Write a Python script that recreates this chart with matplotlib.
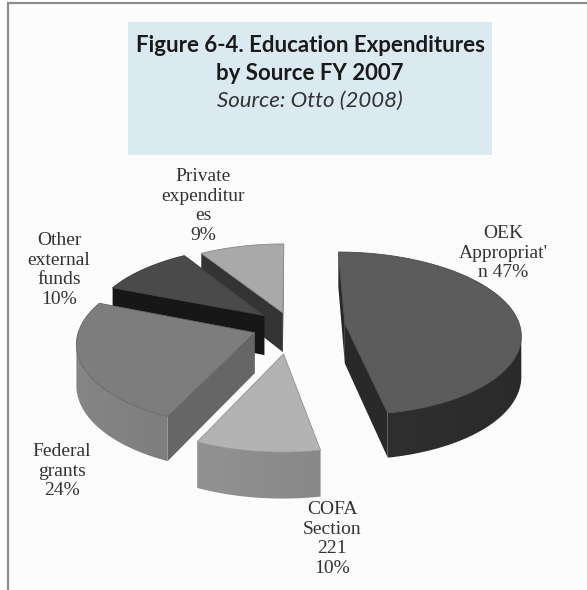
import matplotlib.pyplot as plt
import numpy as np
from matplotlib.colors import to_rgb
from matplotlib.patches import Polygon, Rectangle

# Education expenditure shares (%), clockwise from 12 o'clock.
shares = [47, 10, 24, 10, 9]
label_templates = [
    "OEK\nAppropriat'\nn {}%",
    "COFA\nSection\n221\n{}%",
    "Federal\ngrants\n{}%",
    "Other\nexternal\nfunds\n{}%",
    "Private\nexpenditur\nes\n{}%",
]
title_lines = ["Figure 6-4. Education Expenditures", "by Source FY 2007"]
source_line = "Source: Otto (2008)"

# How far each wedge is pulled out, in pie radii.
explode = [0.31, 0.33, 0.22, 0.20, 0.17]
top_colors = ["#5c5c5c", "#b3b3b3", "#7d7d7d", "#4a4a4a", "#a9a9a9"]
side_colors = ["#303030", "#8b8b8b", "#787878", "#1b1b1b", "#3d3d3d"]
label_pos = [(503, 253), (332, 539), (62, 471), (59, 270), (203, 206)]

W, H_FIG = 587, 590
# Projection of the pie into pixel space.
X0, Y0 = 291, 326
RX, RY, DEPTH = 175, 82, 40
PERSP = 0.12


def project(u, w, z):
    """Ground point (u right, w toward viewer, z up) -> pixel coordinates."""
    s = 1 + PERSP * w
    return X0 + RX * u * s, Y0 + (RY * w - DEPTH * z) * s


def signed_area(pts):
    x = np.array([p[0] for p in pts])
    y = np.array([p[1] for p in pts])
    return 0.5 * np.sum(x * np.roll(y, -1) - np.roll(x, -1) * y)


def shade(color, factor):
    r, g, b = to_rgb(color)
    return tuple(min(1.0, c * factor) for c in (r, g, b))


fig = plt.figure(figsize=(W / 100, H_FIG / 100), dpi=100)
ax = fig.add_axes([0, 0, 1, 1])
ax.axis("off")

# Chart area background and frame.
ax.add_patch(Rectangle((8, 3), W - 8, H_FIG - 3, facecolor="#fcfcfc", edgecolor="none"))
ax.plot([7, W], [3, 3], color="#8c8c8c", lw=1.6, solid_capstyle="butt")
ax.plot([8, 8], [3, H_FIG], color="#8c8c8c", lw=1.6, solid_capstyle="butt")

# Title box.
ax.add_patch(Rectangle((128, 22), 364, 133, facecolor="#dbe9f1", edgecolor="none"))
ax.text(310, 46, title_lines[0], ha="center", va="center", fontsize=16,
        fontweight="bold", family="Lato", color="#1a1a1a")
ax.text(310, 73, title_lines[1], ha="center", va="center", fontsize=16,
        fontweight="bold", family="Lato", color="#1a1a1a")
ax.text(310, 101, source_line, ha="center", va="center", fontsize=16,
        style="italic", family="Lato", color="#333333")

# Build the wedges.
bounds = np.concatenate([[0], np.cumsum(shares)]) / np.sum(shares) * 360
wedges = []
for i, share in enumerate(shares):
    t1, t2 = bounds[i], bounds[i + 1]
    mid = np.radians((t1 + t2) / 2)
    cu, cw = explode[i] * np.sin(mid), -explode[i] * np.cos(mid)
    wedges.append((cw, i, t1, t2, cu))

z = 10
for cw, i, t1, t2, cu in sorted(wedges):
    theta = np.radians(np.linspace(t1, t2, 120))
    rim = [(cu + np.sin(t), cw - np.cos(t)) for t in theta]
    apex = (cu, cw)

    # Flat side walls along the two radii, kept only when facing the viewer.
    for p, q in [(apex, rim[0]), (rim[-1], apex)]:
        quad = [project(*p, 0), project(*q, 0), project(*q, -1), project(*p, -1)]
        if signed_area(quad) < 0:
            ax.add_patch(Polygon(quad, closed=True, facecolor=shade(side_colors[i], 0.85),
                                 edgecolor="none", zorder=z))

    # Curved outer wall: the front-facing run of the arc.
    seen = []
    for k in range(len(rim) - 1):
        quad = [project(*rim[k], 0), project(*rim[k + 1], 0),
                project(*rim[k + 1], -1), project(*rim[k], -1)]
        if signed_area(quad) < 0:
            seen.extend([k, k + 1])
    if seen:
        idx = sorted(set(seen))
        upper = [project(*rim[k], 0) for k in idx]
        lower = [project(*rim[k], -1) for k in idx[::-1]]
        wall = Polygon(upper + lower, closed=True, facecolor="none",
                       edgecolor="none", zorder=z)
        ax.add_patch(wall)
        xs = np.array([p[0] for p in upper + lower])
        ys = np.array([p[1] for p in upper + lower])
        # Light falls from the left: brighter where the wall turns left.
        cols = np.linspace(xs.min(), xs.max(), 200)
        rim_x = np.array([p[0] for p in upper])
        rim_t = theta[idx]
        order = np.argsort(rim_x)
        t_at = np.interp(cols, rim_x[order], rim_t[order])
        fac = 1 + 0.12 * (-np.sin(t_at))
        base = np.array(to_rgb(side_colors[i]))
        img = np.clip(base[None, :] * fac[:, None], 0, 1)[None, :, :]
        im = ax.imshow(img, extent=(xs.min(), xs.max(), ys.max(), ys.min()),
                       aspect="auto", zorder=z, interpolation="bilinear")
        im.set_clip_path(wall)

    top = [project(*apex, 0)] + [project(*p, 0) for p in rim]
    ax.add_patch(Polygon(top, closed=True, facecolor=top_colors[i],
                         edgecolor=shade(top_colors[i], 0.8), lw=0.6, zorder=z + 1))
    z += 2

# Category labels with their shares.
for i, share in enumerate(shares):
    x, y = label_pos[i]
    ax.text(x, y, label_templates[i].format(share), ha="center", va="center",
            fontsize=14, family="Liberation Serif", color="#333333",
            linespacing=1.2, zorder=30)

ax.set_xlim(0, W)
ax.set_ylim(H_FIG, 0)
fig.savefig("out.png", dpi=100)
